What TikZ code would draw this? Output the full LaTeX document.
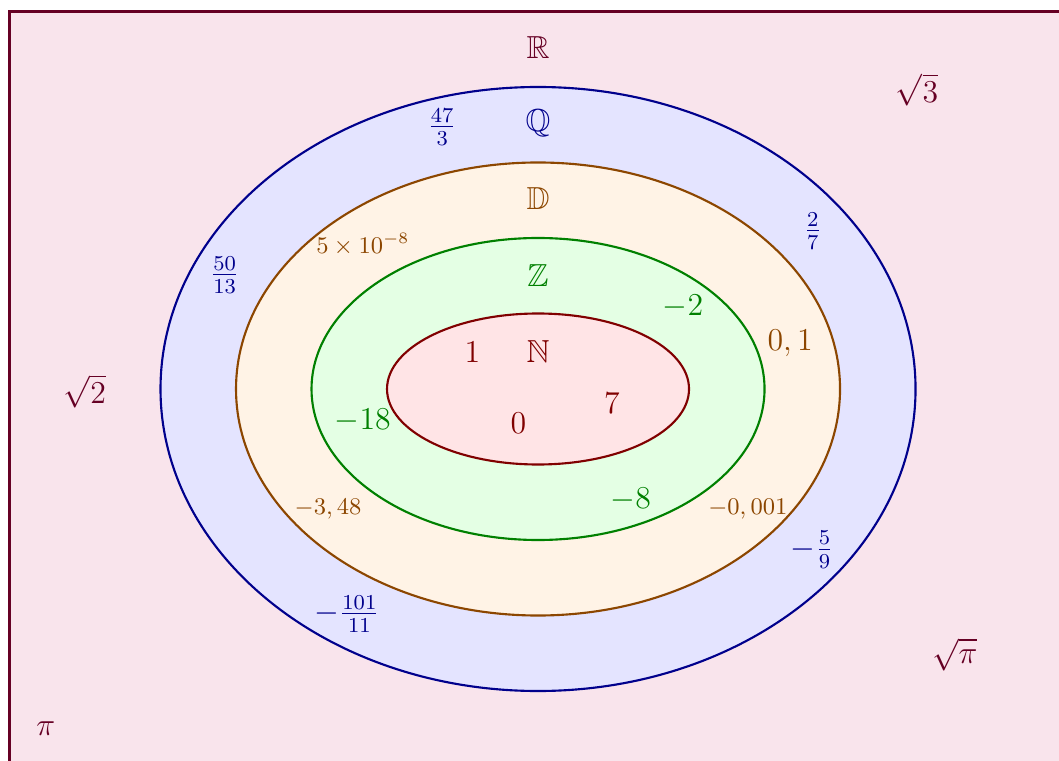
\documentclass[tikz,border=0pt]{standalone}
\usepackage{amsfonts,amssymb,amsmath}
\usepackage{xcolor}
\usepackage{tikz}
\definecolor{Rcol}{RGB}{102,0,36}
\definecolor{Rfill}{RGB}{249,228,236}
\definecolor{Qcol}{RGB}{0,0,140}
\definecolor{Qfill}{RGB}{228,228,255}
\definecolor{Dcol}{RGB}{140,70,0}
\definecolor{Dfill}{RGB}{255,243,230}
\definecolor{Zcol}{RGB}{0,128,0}
\definecolor{Zfill}{RGB}{228,255,228}
\definecolor{Ncol}{RGB}{128,0,0}
\definecolor{Nfill}{RGB}{255,228,230}

\begin{document}
\begin{tikzpicture}[font=\large]
\useasboundingbox(-7.126,-4.914) rectangle (6.90,5.152);
\draw[line width=1.2pt,draw=Rcol,fill=Rfill](-7,-5) rectangle (7,5);
\draw[line width=0.8pt,Qcol,fill=Qfill](0,0) ellipse (5 and 4);
\draw[line width=0.8pt,Dcol,fill=Dfill](0,0) ellipse (4 and 3);
\draw[line width=0.8pt,Zcol,fill=Zfill](0,0) ellipse (3 and 2);
\draw[line width=0.8pt,Ncol,fill=Nfill](0,0) ellipse (2 and 1);
% real numbers
\draw[Rcol](0,4.52)node(R){$\mathbb{R}$}
(5.02,3.96)node(sqrtthree){$\sqrt{3}$}
(-6.0,-0.03)node(sqrttwo){$\sqrt{2}$}
(5.52,-3.52)node(sqrtpi){$\sqrt{\pi}$}
(-6.52,-4.50)node(pi){$\pi$};
% rationals
\draw[Qcol](0,3.52)node(Q){$\mathbb{Q}$}
(-1.27,3.47)node(qa){$\frac{47}{3}$}
(3.64,2.09)node(qb){$\frac{2}{7}$}
(-4.15,1.51)node(qc){$\frac{50}{13}$}
(3.63,-2.13)node(qd){$-\frac{5}{9}$}
(-2.53,-2.98)node(qe){$-\frac{101}{11}$};
% decimals
\draw[Dcol](0,2.52)node(D){$\mathbb{D}$}
(-2.32,1.91)node[font=\small](da){$5\times10^{-8}$}
(3.34,0.61)node(db){$0,1$}
(-2.78,-1.59)node[font=\small](dc){$-3,48$}
(2.78,-1.59)node[font=\small](dd){$-0,001$};
% integers
\draw[Zcol](0,1.50)node(Z){$\mathbb{Z}$}
(1.92,1.09)node(za){$-2$}
(-2.32,-0.42)node(zb){$-18$}
(1.23,-1.47)node(zc){$-8$};
% naturals
\draw[Ncol](0,0.49)node(N){$\mathbb{N}$}
(-0.87,0.49)node(na){$1$}
(0.98,-0.19)node(nb){$7$}
(-0.26,-0.45)node(nc){$0$};
\end{tikzpicture}
\end{document}
